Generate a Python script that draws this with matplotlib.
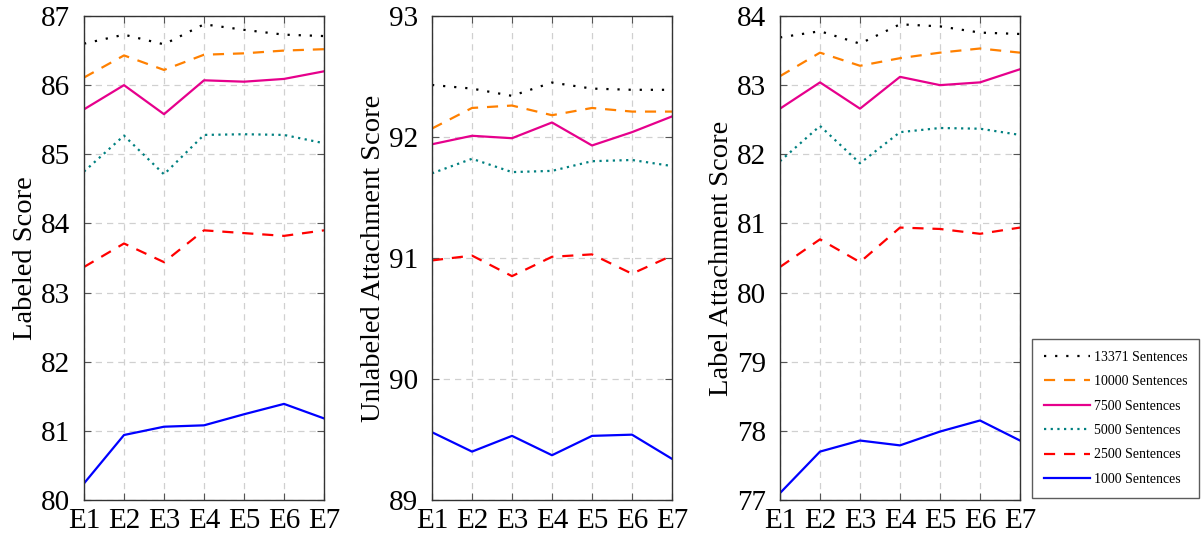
import matplotlib
matplotlib.use('Agg')
import matplotlib.pyplot as plt

plt.rcParams['font.family'] = ['Liberation Serif', 'DejaVu Serif']
plt.rcParams['mathtext.fontset'] = 'stix'

# data
epochs = ['E1', 'E2', 'E3', 'E4', 'E5', 'E6', 'E7']
series_names = ['13371 Sentences', '10000 Sentences', '7500 Sentences',
                '5000 Sentences', '2500 Sentences', '1000 Sentences']

# labeled score
ls_13371 = [86.60, 86.73, 86.59, 86.88, 86.80, 86.73, 86.71]
ls_10000 = [86.11, 86.43, 86.22, 86.44, 86.46, 86.50, 86.52]
ls_7500 = [85.65, 86.00, 85.58, 86.07, 86.05, 86.09, 86.20]
ls_5000 = [84.75, 85.27, 84.71, 85.28, 85.29, 85.28, 85.16]
ls_2500 = [83.37, 83.71, 83.44, 83.90, 83.86, 83.82, 83.90]
ls_1000 = [80.24, 80.94, 81.06, 81.08, 81.24, 81.39, 81.18]

# unlabeled attachment score
uas_13371 = [92.43, 92.40, 92.34, 92.45, 92.40, 92.39, 92.39]
uas_10000 = [92.07, 92.24, 92.26, 92.18, 92.24, 92.21, 92.21]
uas_7500 = [91.94, 92.01, 91.99, 92.12, 91.93, 92.04, 92.17]
uas_5000 = [91.70, 91.82, 91.71, 91.72, 91.80, 91.81, 91.76]
uas_2500 = [90.98, 91.02, 90.85, 91.01, 91.03, 90.87, 91.02]
uas_1000 = [89.56, 89.40, 89.53, 89.37, 89.53, 89.54, 89.34]

# label attachment score
las_13371 = [83.69, 83.78, 83.60, 83.88, 83.85, 83.76, 83.74]
las_10000 = [83.13, 83.47, 83.28, 83.39, 83.47, 83.53, 83.47]
las_7500 = [82.66, 83.04, 82.66, 83.12, 83.00, 83.04, 83.23]
las_5000 = [81.90, 82.41, 81.87, 82.32, 82.38, 82.37, 82.28]
las_2500 = [80.37, 80.77, 80.44, 80.94, 80.92, 80.85, 80.94]
las_1000 = [77.10, 77.70, 77.86, 77.79, 77.99, 78.15, 77.86]

panels = [
    ('Labeled Score', [ls_13371, ls_10000, ls_7500, ls_5000, ls_2500, ls_1000], (80, 87)),
    ('Unlabeled Attachment Score', [uas_13371, uas_10000, uas_7500, uas_5000, uas_2500, uas_1000], (89, 93)),
    ('Label Attachment Score', [las_13371, las_10000, las_7500, las_5000, las_2500, las_1000], (77, 84)),
]

styles = [
    dict(color='black', linestyle=(0, (1, 4))),
    dict(color='#ff8000', linestyle=(0, (5, 4))),
    dict(color='#e6008c', linestyle='-'),
    dict(color='#008080', linestyle=(0, (1, 2))),
    dict(color='red', linestyle=(0, (5, 4))),
    dict(color='blue', linestyle='-'),
]

fig = plt.figure(figsize=(12.04, 5.37), dpi=100)
lefts = [84, 432, 780]
x = list(range(len(epochs)))

for left, (ylabel, data, ylim) in zip(lefts, panels):
    ax = fig.add_axes([left / 1204, 1 - 500 / 537, 240 / 1204, 484 / 537])
    for vals, name, st in zip(data, series_names, styles):
        ax.plot(x, vals, linewidth=1.6, label=name, **st)
    ax.set_xlim(0, 6)
    ax.set_ylim(*ylim)
    ax.set_xticks(x)
    ax.set_xticklabels(epochs)
    ax.set_yticks(range(ylim[0], ylim[1] + 1))
    ax.tick_params(labelsize=21, direction='in', top=True, right=True,
                   color='#555555', length=5)
    ax.tick_params(axis='x', pad=6)
    ax.tick_params(axis='y', pad=10)
    ax.grid(True, color='#d0d0d0', linestyle=(0, (5, 4)), linewidth=0.9)
    ax.set_ylabel(ylabel, fontsize=20.5, labelpad=2)
    for sp in ax.spines.values():
        sp.set_color('#333333')
        sp.set_linewidth(1.0)
    handles, labels = ax.get_legend_handles_labels()

leg = fig.legend(handles, labels, loc='upper left',
                 bbox_to_anchor=(1032 / 1204, 1 - 339 / 537),
                 borderaxespad=0, fontsize=10, frameon=True, fancybox=False,
                 handlelength=3.3, labelspacing=0.82, borderpad=0.85,
                 handletextpad=0.3)
leg.get_frame().set_edgecolor('#333333')
leg.get_frame().set_linewidth(1.0)

plt.savefig('out.png', dpi=100)
